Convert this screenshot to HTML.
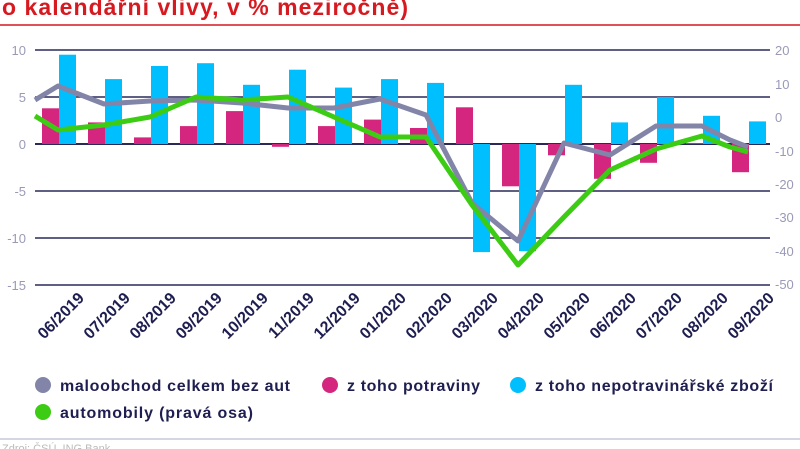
<!DOCTYPE html>
<html><head><meta charset="utf-8"><style>
body{margin:0;background:#fff;width:800px;height:449px;overflow:hidden}
svg{display:block;font-family:"Liberation Sans",sans-serif}
</style></head><body>
<svg width="800" height="449" viewBox="0 0 800 449">
<text x="2" y="15" font-size="23" font-weight="bold" fill="#d71920" textLength="406">o kalendářní vlivy, v % meziročně)</text>
<line x1="0" y1="25" x2="800" y2="25" stroke="#d71920" stroke-width="1.5"/>
<g stroke="#2a2a5a" stroke-width="1.5">
<line x1="35" y1="50" x2="770" y2="50"/><line x1="35" y1="97" x2="770" y2="97"/>
<line x1="35" y1="144" x2="770" y2="144" stroke-width="2"/><line x1="35" y1="191" x2="770" y2="191"/>
<line x1="35" y1="238" x2="770" y2="238"/><line x1="35" y1="285" x2="770" y2="285"/>
</g>
<g font-size="13" fill="#9a9ab8" text-anchor="end">
<text x="26" y="55">10</text><text x="26" y="102">5</text><text x="26" y="149">0</text>
<text x="26" y="196">-5</text><text x="26" y="243">-10</text><text x="26" y="290">-15</text>
</g>
<g font-size="13" fill="#9a9ab8" text-anchor="start">
<text x="775" y="55">20</text><text x="775" y="89">10</text><text x="775" y="122">0</text>
<text x="775" y="156">-10</text><text x="775" y="189">-20</text><text x="775" y="222">-30</text>
<text x="775" y="256">-40</text><text x="775" y="289">-50</text>
</g>
<g fill="#d4267e">
<rect x="42" y="108.3" width="17" height="35.7"/><rect x="88" y="122.4" width="17" height="21.6"/>
<rect x="134" y="137.4" width="17" height="6.6"/><rect x="180" y="126.1" width="17" height="17.9"/>
<rect x="226" y="111.1" width="17" height="32.9"/><rect x="272" y="144" width="17" height="2.8"/>
<rect x="318" y="126.1" width="17" height="17.9"/><rect x="364" y="119.6" width="17" height="24.4"/>
<rect x="410" y="128" width="17" height="16"/><rect x="456" y="107.3" width="17" height="36.7"/>
<rect x="502" y="144" width="17" height="42.3"/><rect x="548" y="144" width="17" height="11.3"/>
<rect x="594" y="144" width="17" height="34.8"/><rect x="640" y="144" width="17" height="18.8"/>
<rect x="686" y="143" width="17" height="1"/><rect x="732" y="144" width="17" height="28.2"/>
</g>
<g fill="#00bfff">
<rect x="59" y="54.7" width="17" height="89.3"/><rect x="105" y="79.1" width="17" height="64.9"/>
<rect x="151" y="66" width="17" height="78"/><rect x="197" y="63.2" width="17" height="80.8"/>
<rect x="243" y="84.8" width="17" height="59.2"/><rect x="289" y="69.7" width="17" height="74.3"/>
<rect x="335" y="87.6" width="17" height="56.4"/><rect x="381" y="79.1" width="17" height="64.9"/>
<rect x="427" y="82.9" width="17" height="61.1"/><rect x="473" y="144" width="17" height="108.1"/>
<rect x="519" y="144" width="17" height="107.2"/><rect x="565" y="84.8" width="17" height="59.2"/>
<rect x="611" y="122.4" width="17" height="21.6"/><rect x="657" y="97" width="17" height="47"/>
<rect x="703" y="115.8" width="17" height="28.2"/><rect x="749" y="121.4" width="17" height="22.6"/>
</g>
<polyline fill="none" stroke="#8285a8" stroke-width="5" stroke-linejoin="round" points="35,100 58,86 104,104 150,101 196,100 242,103 288,108 334,108 380,99 426,115 472,203 518,241 564,143 610,155 656,126 702,126 730,140 748,147"/>
<polyline fill="none" stroke="#3ccc14" stroke-width="5" stroke-linejoin="round" points="35,116 58,130 104,125 150,117 196,97 242,100 288,97 334,117 380,137 426,137 472,205 518,265 564,217 610,170 656,149 702,136 730,147 748,152"/>
<g font-size="16" font-weight="bold" fill="#1e1e50" text-anchor="end">
<text transform="translate(85,299) rotate(-45)">06/2019</text>
<text transform="translate(131,299) rotate(-45)">07/2019</text>
<text transform="translate(177,299) rotate(-45)">08/2019</text>
<text transform="translate(223,299) rotate(-45)">09/2019</text>
<text transform="translate(269,299) rotate(-45)">10/2019</text>
<text transform="translate(315,299) rotate(-45)">11/2019</text>
<text transform="translate(361,299) rotate(-45)">12/2019</text>
<text transform="translate(407,299) rotate(-45)">01/2020</text>
<text transform="translate(453,299) rotate(-45)">02/2020</text>
<text transform="translate(499,299) rotate(-45)">03/2020</text>
<text transform="translate(545,299) rotate(-45)">04/2020</text>
<text transform="translate(591,299) rotate(-45)">05/2020</text>
<text transform="translate(637,299) rotate(-45)">06/2020</text>
<text transform="translate(683,299) rotate(-45)">07/2020</text>
<text transform="translate(729,299) rotate(-45)">08/2020</text>
<text transform="translate(775,299) rotate(-45)">09/2020</text>
</g>
<g font-size="16" font-weight="bold" fill="#1e1e50">
<circle cx="43" cy="385" r="8" fill="#8285a8"/><text x="60" y="391" textLength="230">maloobchod celkem bez aut</text>
<circle cx="330" cy="385" r="8" fill="#d4267e"/><text x="347" y="391" textLength="133">z toho potraviny</text>
<circle cx="518" cy="385" r="8" fill="#00bfff"/><text x="535" y="391" textLength="238">z toho nepotravinářské zboží</text>
<circle cx="43" cy="412" r="8" fill="#3ccc14"/><text x="60" y="418" textLength="193">automobily (pravá osa)</text>
</g>
<line x1="0" y1="439" x2="800" y2="439" stroke="#c8c8d8" stroke-width="1.5"/>
<text x="2" y="452" font-size="11" fill="#bbb">Zdroj: ČSÚ, ING Bank</text>
</svg>
</body></html>
